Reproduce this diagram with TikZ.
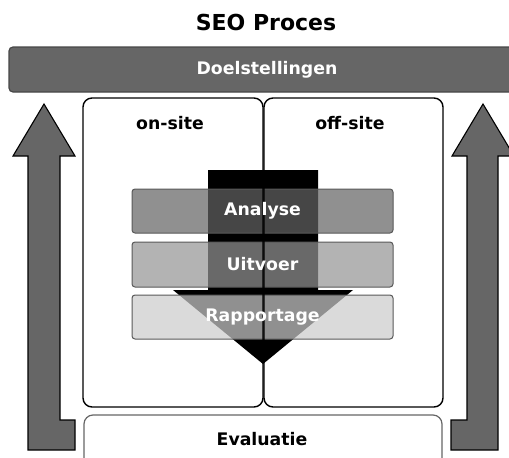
\documentclass[tikz,border=0pt]{standalone}
\usepackage{fontspec}
\setmainfont{DejaVu Sans}
\begin{document}
\begin{tikzpicture}[x=1pt,y=-1pt,
  sidearrow/.style={fill=black!60, draw=black, line width=1.1pt, line join=miter},
  sitebox/.style={draw=black, line width=1.4pt, rounded corners=9pt},
  stagebar/.style={draw=black!65, line width=1pt, rounded corners=3pt, fill opacity=0.71, draw opacity=1},
  whitelabel/.style={text=white, font=\bfseries\fontsize{17.3}{20}\selectfont},
  blacklabel/.style={text=black, font=\bfseries\fontsize{17.3}{20}\selectfont}]
\useasboundingbox (0,0) rectangle (509,458);
\clip (0,0) rectangle (509,458);
% title
\node[font=\bfseries\fontsize{22}{26}\selectfont] (title) at (266,22) {SEO Proces};
% goals bar
\draw[fill=black!60, draw=black!72, line width=1.2pt, rounded corners=4pt] (9,47) rectangle (522,92);
\coordinate (goalsc) at (267,70);
\node[whitelabel] (goals) at (goalsc) {Doelstellingen};
% side arrows
\draw[sidearrow] (44,104) -- (75,156) -- (60,156) -- (60,420) -- (75,420) -- (75,450) -- (28,450) -- (28,156) -- (13,156) -- cycle;
\draw[sidearrow] (483,104) -- (514,156) -- (498,156) -- (498,450) -- (451,450) -- (451,420) -- (467,420) -- (467,156) -- (452,156) -- cycle;
% site boxes (white fill)
\fill[white, rounded corners=9pt] (83,98) rectangle (263,407);
\fill[white, rounded corners=9pt] (264,98) rectangle (443,407);
% evaluation box
\draw[draw=black!60, line width=1.2pt, rounded corners=9pt, fill=white] (84,415) rectangle (442,472);
\node[blacklabel] (eval) at (262,439) {Evaluatie};
% big down arrow
\fill[black] (208,170) -- (318,170) -- (318,290) -- (353,290) -- (263,364) -- (173,290) -- (208,290) -- cycle;
% stage bars
\node[stagebar, fill=black!61, minimum width=261pt, minimum height=44pt, inner sep=0pt] (analyse) at (262.5,211) {};
\node[stagebar, fill=black!41.5, minimum width=261pt, minimum height=45pt, inner sep=0pt] (uitvoer) at (262.5,264.5) {};
\node[stagebar, fill=black!20, minimum width=261pt, minimum height=44pt, inner sep=0pt] (rapportage) at (262.5,317) {};
% site box outlines
\draw[sitebox] (83,98) rectangle (263,407);
\draw[sitebox] (264,98) rectangle (443,407);
\node[blacklabel] (onsite) at (170,123) {on-site};
\node[blacklabel] (offsite) at (350,123) {off-site};
% labels
\node[whitelabel] at (analyse.center) {Analyse};
\node[whitelabel] at (uitvoer.center) {Uitvoer};
\node[whitelabel] at (rapportage.center) {Rapportage};
\end{tikzpicture}
\end{document}
